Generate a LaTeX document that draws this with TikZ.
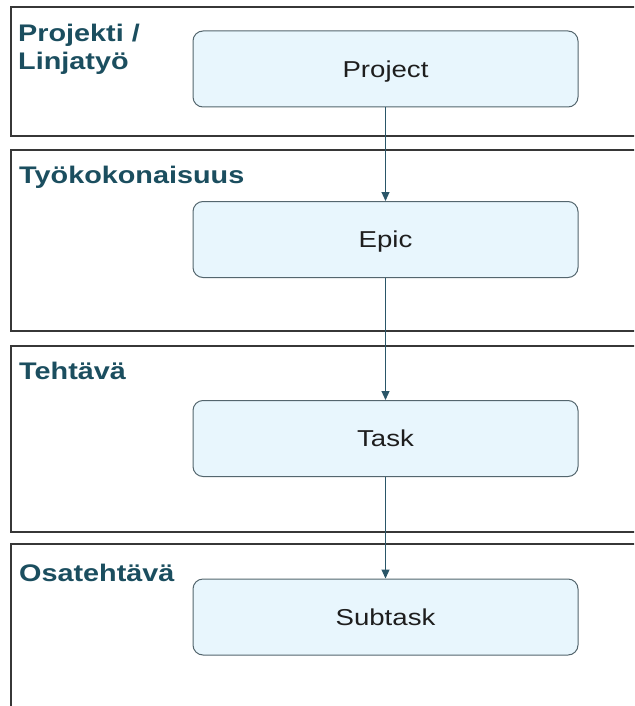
\documentclass[tikz,border=0pt]{standalone}
\usepackage{fontspec}
\setmainfont{Liberation Sans}
\newfontfamily\wideface[FakeStretch=1.2]{Liberation Sans}
\usepackage{tikz}
\usetikzlibrary{arrows.meta}
\definecolor{labelteal}{RGB}{27, 78, 95}
\definecolor{boxfill}{RGB}{232, 246, 253}
\definecolor{boxedge}{RGB}{84, 102, 110}
\definecolor{arrowteal}{RGB}{42, 86, 104}
\definecolor{bandgray}{RGB}{55, 55, 55}
\definecolor{textdark}{RGB}{30, 30, 30}

\begin{document}
\begin{tikzpicture}[x=1pt, y=-1pt, >={Triangle[length=9pt, width=8pt]},
  band/.style={draw=bandgray, line width=1.3pt},
  itembox/.style={draw=boxedge, fill=boxfill, rounded corners=10pt, line width=1pt,
    minimum width=385pt, minimum height=76pt, text=textdark,
    text height=16.5pt, text depth=0pt,
    font=\wideface\fontsize{23}{27}\selectfont},
  bandlabel/.style={anchor=north west, inner sep=0pt, align=left, text=labelteal,
    font=\wideface\bfseries\fontsize{24}{28}\selectfont},
  flow/.style={->, draw=arrowteal, fill=arrowteal, line width=1.1pt}]
  \clip (0,0) rectangle (634,706);
  \fill[white] (0,0) rectangle (634,706);

  % Level bands
  \draw[band] (11,7) rectangle (660,136);
  \draw[band] (11,150) rectangle (660,331);
  \draw[band] (11,346) rectangle (660,532);
  \draw[band] (11,544) rectangle (660,730);

  % Band titles
  \node[bandlabel] (lproject) at (18,24) {Projekti /\\Linjatyö};
  \node[bandlabel] (lepic) at (19,166) {Työkokonaisuus};
  \node[bandlabel] (ltask) at (19,362) {Tehtävä};
  \node[bandlabel] (lsubtask) at (19,564) {Osatehtävä};

  % Work items
  \node[itembox] (project) at (385.5,69) {Project};
  \node[itembox] (epic) at (385.5,239.5) {Epic};
  \node[itembox] (task) at (385.5,438.5) {Task};
  \node[itembox] (subtask) at (385.5,617) {Subtask};

  % Hierarchy arrows
  \draw[flow] (project) -- (epic);
  \draw[flow] (epic) -- (task);
  \draw[flow] (task) -- (subtask);
\end{tikzpicture}
\end{document}
